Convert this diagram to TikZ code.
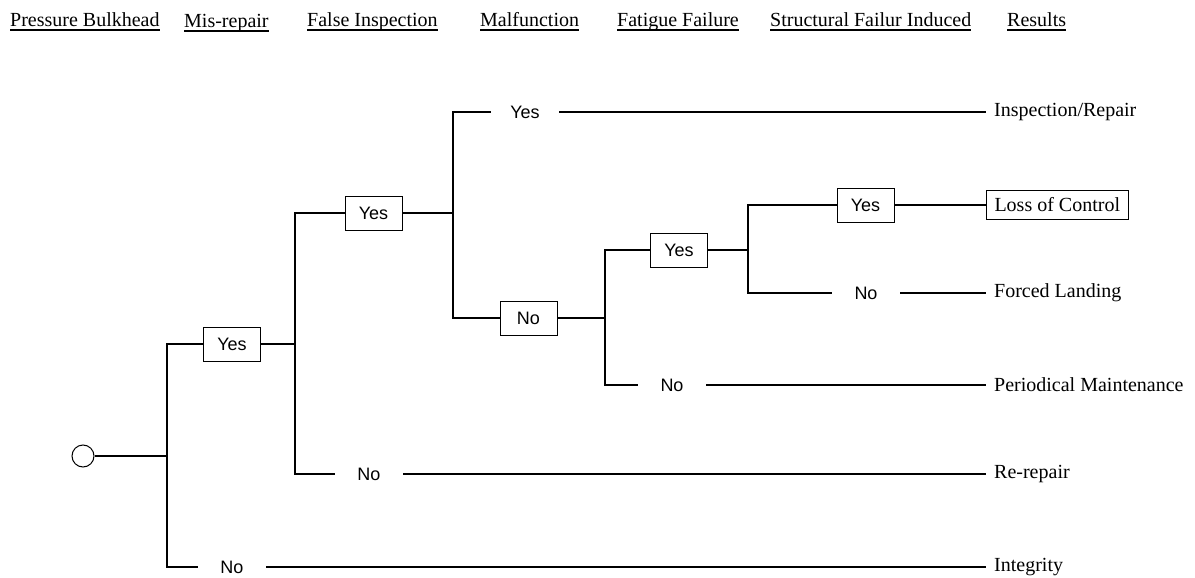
\documentclass[tikz,border=0pt]{standalone}
\usepackage{fontspec}
\setmainfont{Liberation Serif}
\setsansfont{Liberation Sans}
\begin{document}
\begin{tikzpicture}[x=1pt,y=-1pt,
    br/.style={line width=1.8pt},
    ans/.style={draw, line width=1pt, font=\sffamily\fontsize{18}{21}\selectfont,
        minimum width=57pt, minimum height=34pt, inner sep=0pt},
    lbl/.style={font=\sffamily\fontsize{18}{21}\selectfont, minimum width=68pt, inner sep=0pt},
    res/.style={anchor=west, font=\fontsize{20}{24}\selectfont, inner xsep=8pt, inner ysep=8pt},
    hdr/.style={anchor=base west, font=\fontsize{20}{24}\selectfont, inner sep=0pt}]
    \useasboundingbox (0,0) rectangle (1195,578);

    % column headings
    \foreach \x/\y/\t [count=\i] in {10/27/Pressure Bulkhead, 184/28/Mis-repair,
        307/27/False Inspection, 480/27/Malfunction, 617/27/Fatigue Failure,
        770/27/Structural Failur Induced, 1007/27/Results}
    {
        \node[hdr] (h\i) at (\x,\y) {\t};
        \draw[line width=2pt] ([yshift=-3.5pt]h\i.base west) -- ([yshift=-3.5pt]h\i.base east);
    }

    % start and junctions
    \node[draw, circle, minimum size=22pt, inner sep=0pt, line width=1pt] (start) at (83,456) {};
    \coordinate (j1) at (167,456);
    \coordinate (j2) at (295,344);
    \coordinate (j3) at (453,213);
    \coordinate (j4) at (605,318);
    \coordinate (j5) at (748,250);

    % branches
    \node[ans] (y1) at (232,344) {Yes};
    \node[lbl] (n1) at (232,567) {No};
    \node[ans] (y2) at (373.5,213) {Yes};
    \node[lbl] (n2) at (369,474) {No};
    \node[lbl] (y3) at (525,112) {Yes};
    \node[ans] (n3) at (528.5,318) {No};
    \node[ans] (y4) at (679,250) {Yes};
    \node[lbl] (n4) at (672,385) {No};
    \node[ans] (y5) at (865.5,205) {Yes};
    \node[lbl] (n5) at (866,293) {No};

    % results
    \node[res] (r1) at (986,112) {Inspection/Repair};
    \node[res, draw, line width=1pt, inner ysep=7pt] (r2) at (986,205) {Loss of Control};
    \node[res] (r3) at (986,293) {Forced Landing};
    \node[res] (r4) at (986,385) {Periodical Maintenance};
    \node[res] (r5) at (986,474) {Re-repair};
    \node[res] (r6) at (986,567) {Integrity};

    \draw[br] (start) -- (j1) |- (y1);
    \draw[br] (j1) |- (n1) -- (r6);
    \draw[br] (y1) -- (j2) |- (y2);
    \draw[br] (j2) |- (n2) -- (r5);
    \draw[br] (y2) -- (j3) |- (y3) -- (r1);
    \draw[br] (j3) |- (n3);
    \draw[br] (n3) -- (j4) |- (y4);
    \draw[br] (j4) |- (n4) -- (r4);
    \draw[br] (y4) -- (j5) |- (y5) -- (r2);
    \draw[br] (j5) |- (n5) -- (r3);

\end{tikzpicture}
\end{document}
